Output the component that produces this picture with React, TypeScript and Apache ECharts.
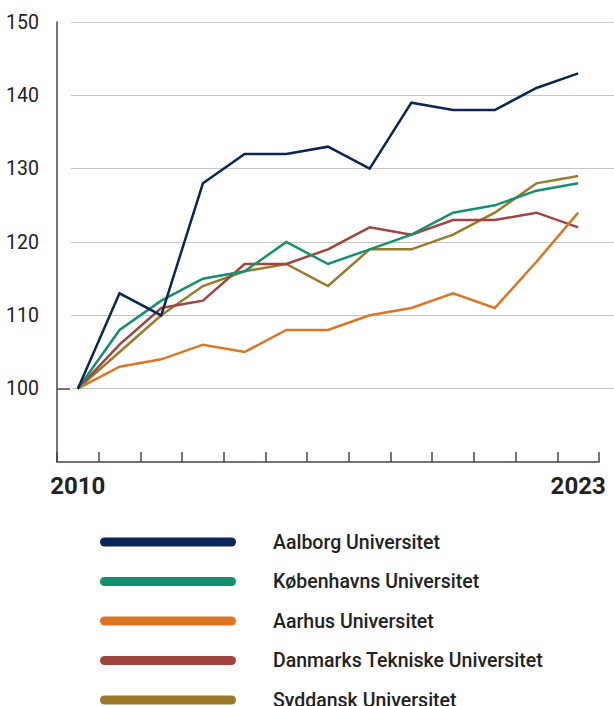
import React, { useEffect, useRef } from 'react';
import * as echarts from 'echarts';

const years = ['2010', '2011', '2012', '2013', '2014', '2015', '2016', '2017', '2018', '2019', '2020', '2021', '2023'];
const aalborg = [100, 113, 110, 128, 132, 132, 133, 130, 139, 138, 138, 141, 143];
const koebenhavn = [100, 108, 112, 115, 116, 120, 117, 119, 121, 124, 125, 127, 128];
const aarhus = [100, 103, 104, 106, 105, 108, 108, 110, 111, 113, 111, 117.3, 124];
const dtu = [100, 106, 111, 112, 117, 117, 119, 122, 121, 123, 123, 124, 122];
const syddansk = [100, 105, 110, 114, 116, 117, 114, 119, 119, 121, 124, 128, 129];
const yLabels = [100, 110, 120, 130, 140, 150];

const names = [
  'Aalborg Universitet',
  'Københavns Universitet',
  'Aarhus Universitet',
  'Danmarks Tekniske Universitet',
  'Syddansk Universitet',
];
const colors = ['#0c2557', '#13916f', '#dd7622', '#a0443f', '#9a7a26'];
const values = [aalborg, koebenhavn, aarhus, dtu, syddansk];

const FONT = 'Roboto, "Noto Sans", sans-serif';
const TEXT = '#222222';
const AXIS = '#474747';

export default function App() {
  const ref = useRef<HTMLDivElement>(null);
  useEffect(() => {
    document.body.style.margin = '0';
    document.body.style.overflow = 'hidden';
    const chart = echarts.init(ref.current!, null, { renderer: 'svg' });
    const drawOrder = [4, 3, 2, 1, 0];
    chart.setOption({
      animation: false,
      grid: [
        { left: 57, right: 15, top: 22, bottom: 244 },
        { left: 71, right: 0, top: 22, bottom: 244 },
      ],
      xAxis: [
        {
          type: 'category',
          gridIndex: 0,
          data: years,
          boundaryGap: true,
          axisLine: { show: true, lineStyle: { color: AXIS, width: 1.5 } },
          axisTick: { show: true, inside: true, length: 10, interval: 0, lineStyle: { color: AXIS, width: 1.5 } },
          axisLabel: {
            interval: (i: number) => i === 0 || i === years.length - 1,
            fontFamily: FONT,
            fontWeight: 'bold',
            fontSize: 24,
            color: TEXT,
            margin: 12,
          },
          splitLine: { show: false },
        },
        { type: 'value', gridIndex: 1, min: 0, max: 1, show: false },
      ],
      yAxis: [
        {
          type: 'value',
          gridIndex: 0,
          min: 90,
          max: 150,
          interval: 10,
          axisLine: { show: true, lineStyle: { color: AXIS, width: 1.5 } },
          axisTick: { show: true, inside: true, length: 13, customValues: [100], lineStyle: { color: AXIS, width: 1.5 } },
          axisLabel: {
            customValues: yLabels,
            fontFamily: FONT,
            fontSize: 19.5,
            color: TEXT,
            margin: 18,
          },
          splitLine: { show: false },
        },
        {
          type: 'value',
          gridIndex: 1,
          min: 90,
          max: 150,
          interval: 10,
          axisLine: { show: false },
          axisTick: { show: false },
          axisLabel: { show: false },
          splitLine: {
            show: true,
            lineStyle: {
              color: ['rgba(0,0,0,0)', '#c6c6c6', '#c6c6c6', '#c6c6c6', '#c6c6c6', '#c6c6c6', '#c6c6c6'],
              width: 1,
            },
          },
        },
      ],
      legend: {
        orient: 'vertical',
        left: 100,
        top: 531,
        height: 400,
        padding: 0,
        data: names,
        icon: 'path://M4.5 0H131.5A4.5 4.5 0 0 1 131.5 9H4.5A4.5 4.5 0 0 1 4.5 0Z',
        itemWidth: 136,
        itemHeight: 9,
        itemGap: 17.5,
        itemStyle: { borderWidth: 0 },
        selectedMode: false,
        textStyle: {
          fontFamily: FONT,
          fontSize: 19.5,
          fontWeight: 500,
          color: TEXT,
          lineHeight: 22,
          padding: [0, 0, 0, 32],
        },
      },
      series: drawOrder.map((k) => ({
        name: names[k],
        type: 'line',
        xAxisIndex: 0,
        yAxisIndex: 0,
        data: values[k],
        showSymbol: false,
        symbol: 'none',
        color: colors[k],
        lineStyle: { color: colors[k], width: 2.5, join: 'miter' },
        emphasis: { disabled: true },
      })),
    });
    return () => chart.dispose();
  }, []);
  return <div ref={ref} style={{ width: 614, height: 706 }} />;
}
